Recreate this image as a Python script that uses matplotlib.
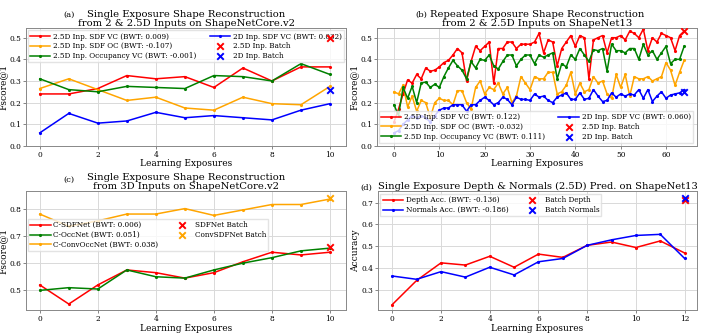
import numpy as np
import matplotlib
matplotlib.use('Agg')
import matplotlib.pyplot as plt

plt.rcParams['font.family'] = 'DejaVu Serif'

# (a) single exposure, 2 & 2.5D inputs, ShapeNetCore.v2
a_x = list(range(11))
a_sdf_vc = [0.24, 0.24, 0.265, 0.325, 0.31, 0.32, 0.27, 0.36, 0.30, 0.365, 0.365]
a_sdf_oc = [0.265, 0.31, 0.26, 0.21, 0.225, 0.175, 0.165, 0.225, 0.195, 0.19, 0.275]
a_occ_vc = [0.31, 0.26, 0.25, 0.275, 0.27, 0.265, 0.325, 0.32, 0.30, 0.38, 0.33]
a_2d_vc = [0.06, 0.15, 0.105, 0.115, 0.155, 0.13, 0.14, 0.13, 0.12, 0.165, 0.195]
a_batch_25d = 0.50
a_batch_2d = 0.26

# (b) repeated exposure, ShapeNet13
b_x = list(range(65))
b_sdf_vc = [0.11, 0.17, 0.24, 0.305, 0.29, 0.33, 0.31, 0.36, 0.345, 0.35,
            0.365, 0.385, 0.395, 0.42, 0.45, 0.43, 0.30, 0.39, 0.46, 0.44,
            0.46, 0.48, 0.29, 0.45, 0.45, 0.48, 0.48, 0.45, 0.47, 0.47,
            0.47, 0.48, 0.52, 0.43, 0.49, 0.48, 0.37, 0.45, 0.48, 0.51,
            0.46, 0.51, 0.50, 0.31, 0.49, 0.50, 0.51, 0.43, 0.50, 0.50,
            0.51, 0.49, 0.53, 0.52, 0.50, 0.54, 0.44, 0.50, 0.48, 0.52,
            0.51, 0.50, 0.44, 0.51, 0.53]
b_sdf_oc = [0.25, 0.24, 0.28, 0.18, 0.23, 0.16, 0.21, 0.20, 0.13, 0.20,
            0.22, 0.21, 0.21, 0.19, 0.255, 0.255, 0.20, 0.17, 0.27, 0.30,
            0.24, 0.27, 0.26, 0.29, 0.24, 0.27, 0.20, 0.23, 0.32, 0.29,
            0.26, 0.32, 0.31, 0.31, 0.34, 0.34, 0.24, 0.25, 0.28, 0.34,
            0.24, 0.29, 0.25, 0.26, 0.32, 0.29, 0.30, 0.24, 0.22, 0.33,
            0.27, 0.33, 0.23, 0.32, 0.31, 0.31, 0.32, 0.30, 0.31, 0.32,
            0.385, 0.35, 0.28, 0.34, 0.395]
b_occ_vc = [0.19, 0.14, 0.27, 0.22, 0.275, 0.20, 0.29, 0.295, 0.27, 0.285,
            0.27, 0.32, 0.36, 0.395, 0.37, 0.35, 0.31, 0.39, 0.36, 0.40,
            0.395, 0.42, 0.37, 0.355, 0.39, 0.42, 0.42, 0.37, 0.40, 0.42,
            0.42, 0.38, 0.42, 0.41, 0.42, 0.43, 0.31, 0.38, 0.365, 0.42,
            0.40, 0.45, 0.42, 0.39, 0.445, 0.44, 0.45, 0.345, 0.47, 0.44,
            0.44, 0.43, 0.45, 0.45, 0.40, 0.47, 0.42, 0.44, 0.40, 0.43,
            0.46, 0.38, 0.40, 0.40, 0.46]
b_2d_vc = [0.06, 0.07, 0.10, 0.12, 0.14, 0.13, 0.14, 0.13, 0.11, 0.14,
           0.165, 0.175, 0.175, 0.19, 0.19, 0.19, 0.16, 0.19, 0.19, 0.21,
           0.225, 0.21, 0.19, 0.20, 0.225, 0.215, 0.19, 0.225, 0.215, 0.215,
           0.21, 0.24, 0.225, 0.23, 0.21, 0.20, 0.225, 0.235, 0.245, 0.215,
           0.215, 0.245, 0.215, 0.22, 0.26, 0.23, 0.205, 0.21, 0.245, 0.225,
           0.24, 0.23, 0.24, 0.235, 0.26, 0.22, 0.26, 0.205, 0.23, 0.25,
           0.22, 0.235, 0.24, 0.245, 0.26]
b_batch_25d = 0.53
b_batch_2d = 0.25

# (c) single exposure, 3D inputs, ShapeNetCore.v2
c_x = list(range(11))
c_sdfnet = [0.52, 0.45, 0.52, 0.575, 0.565, 0.545, 0.565, 0.605, 0.64, 0.63, 0.64]
c_occnet = [0.50, 0.51, 0.505, 0.575, 0.55, 0.545, 0.575, 0.60, 0.62, 0.645, 0.655]
c_convocc = [0.78, 0.735, 0.755, 0.78, 0.78, 0.80, 0.775, 0.795, 0.815, 0.815, 0.835]
c_batch_sdf = 0.66
c_batch_conv = 0.84

# (d) depth & normals prediction, ShapeNet13
d_x = list(range(13))
d_depth = [0.235, 0.345, 0.425, 0.415, 0.455, 0.405, 0.465, 0.45, 0.505, 0.52, 0.495, 0.525, 0.47]
d_normals = [0.365, 0.35, 0.385, 0.36, 0.405, 0.37, 0.43, 0.445, 0.505, 0.53, 0.55, 0.555, 0.445]
d_batch_depth = 0.71
d_batch_normals = 0.72

fig = plt.figure(figsize=(7.06, 3.33), dpi=100)
axa = fig.add_axes([0.037, 0.562, 0.453, 0.354])
axb = fig.add_axes([0.534, 0.562, 0.453, 0.354])
axc = fig.add_axes([0.037, 0.069, 0.453, 0.357])
axd = fig.add_axes([0.536, 0.069, 0.451, 0.357])

kw = dict(marker='.', markersize=2.5, linewidth=1.1)
xkw = dict(marker='x', s=22, linewidths=1.4, zorder=6)
TS, LS, KS, GS = 7.2, 6.5, 5.3, 5.2
legkw = dict(fontsize=GS, handlelength=2.8, handletextpad=0.4, borderpad=0.3,
             labelspacing=0.25, columnspacing=1.8, framealpha=0.8,
             fancybox=False, edgecolor='#dddddd')

for ax in [axa, axb, axc, axd]:
    ax.grid(True, color='#d9d9d9', linewidth=0.7)
    ax.set_axisbelow(True)
    for s in ax.spines.values():
        s.set_color('#888888')
        s.set_linewidth(0.7)
    ax.tick_params(labelsize=KS, length=2, width=0.5, pad=1.5, color='#555555')
    ax.set_xlabel('Learning Exposures', fontsize=LS, labelpad=0.5)

# (a)
axa.plot(a_x, a_sdf_vc, color='red', label='2.5D Inp. SDF VC (BWT: 0.009)', **kw)
axa.plot(a_x, a_sdf_oc, color='orange', label='2.5D Inp. SDF OC (BWT: -0.107)', **kw)
axa.plot(a_x, a_occ_vc, color='green', label='2.5D Inp. Occupancy VC (BWT: -0.001)', **kw)
axa.plot(a_x, a_2d_vc, color='blue', label='2D Inp. SDF VC (BWT: 0.032)', **kw)
axa.scatter([10], [a_batch_25d], color='red', label='2.5D Inp. Batch', **xkw)
axa.scatter([10], [a_batch_2d], color='blue', label='2D Inp. Batch', **xkw)
axa.set_ylim(0, 0.545)
axa.set_xlim(-0.47, 10.55)
axa.set_ylabel('Fscore@1', fontsize=LS, labelpad=1)
axa.set_title('Single Exposure Shape Reconstruction\nfrom 2 & 2.5D Inputs on ShapeNetCore.v2',
              fontsize=TS, pad=1.5, linespacing=1.0)
axa.text(0.134, 1.11, '(a)', transform=axa.transAxes, fontsize=6, ha='center', va='center')
axa.legend(ncol=2, loc='upper center', bbox_to_anchor=(0.5, 1.01), **legkw)

# (b)
axb.plot(b_x, b_sdf_vc, color='red', label='2.5D Inp. SDF VC (BWT: 0.122)', **kw)
axb.plot(b_x, b_sdf_oc, color='orange', label='2.5D Inp. SDF OC (BWT: -0.032)', **kw)
axb.plot(b_x, b_occ_vc, color='green', label='2.5D Inp. Occupancy VC (BWT: 0.111)', **kw)
axb.plot(b_x, b_2d_vc, color='blue', label='2D Inp. SDF VC (BWT: 0.060)', **kw)
axb.scatter([64], [b_batch_25d], color='red', label='2.5D Inp. Batch', **xkw)
axb.scatter([64], [b_batch_2d], color='blue', label='2D Inp. Batch', **xkw)
axb.set_ylim(0, 0.545)
axb.set_xlim(-3.75, 66.8)
axb.set_ylabel('Fscore@1', fontsize=LS, labelpad=1)
axb.set_title('Repeated Exposure Shape Reconstruction\nfrom 2 & 2.5D Inputs on ShapeNet13',
              fontsize=TS, pad=1.5, linespacing=1.0)
axb.text(0.1375, 1.11, '(b)', transform=axb.transAxes, fontsize=6, ha='center', va='center')
axb.legend(ncol=2, loc='lower left', bbox_to_anchor=(-0.005, -0.005), **legkw)

# (c)
axc.plot(c_x, c_sdfnet, color='red', label='C-SDFNet (BWT: 0.006)', **kw)
axc.plot(c_x, c_occnet, color='green', label='C-OccNet (BWT: 0.051)', **kw)
axc.plot(c_x, c_convocc, color='orange', label='C-ConvOccNet (BWT: 0.038)', **kw)
axc.scatter([10], [c_batch_sdf], color='red', label='SDFNet Batch', **xkw)
axc.scatter([10], [c_batch_conv], color='orange', label='ConvSDFNet Batch', **xkw)
axc.set_ylim(0.428, 0.864)
axc.set_xlim(-0.47, 10.55)
axc.set_yticks([0.5, 0.6, 0.7, 0.8])
axc.set_ylabel('Fscore@1', fontsize=LS, labelpad=1)
axc.set_title('Single Exposure Shape Reconstruction\nfrom 3D Inputs on ShapeNetCore.v2',
              fontsize=TS, pad=1.5, linespacing=1.0)
axc.text(0.134, 1.092, '(c)', transform=axc.transAxes, fontsize=6, ha='center', va='center')
axc.legend(ncol=2, loc='center left', bbox_to_anchor=(-0.005, 0.63), **legkw)

# (d)
axd.plot(d_x, d_depth, color='red', label='Depth Acc. (BWT: -0.136)', **kw)
axd.plot(d_x, d_normals, color='blue', label='Normals Acc. (BWT: -0.186)', **kw)
axd.scatter([12], [d_batch_depth], color='red', label='Batch Depth', **xkw)
axd.scatter([12], [d_batch_normals], color='blue', label='Batch Normals', **xkw)
axd.set_ylim(0.21, 0.752)
axd.set_xlim(-0.57, 12.5)
axd.set_ylabel('Accuracy', fontsize=LS, labelpad=1)
axd.set_title('Single Exposure Depth & Normals (2.5D) Pred. on ShapeNet13',
              fontsize=7.1, pad=0.5, loc='left')
axd.text(-0.038, 1.03, '(d)', transform=axd.transAxes, fontsize=6, ha='center', va='center')
axd.legend(ncol=2, loc='upper left', bbox_to_anchor=(-0.005, 1.005), **legkw)

fig.savefig('out.png', dpi=100)
